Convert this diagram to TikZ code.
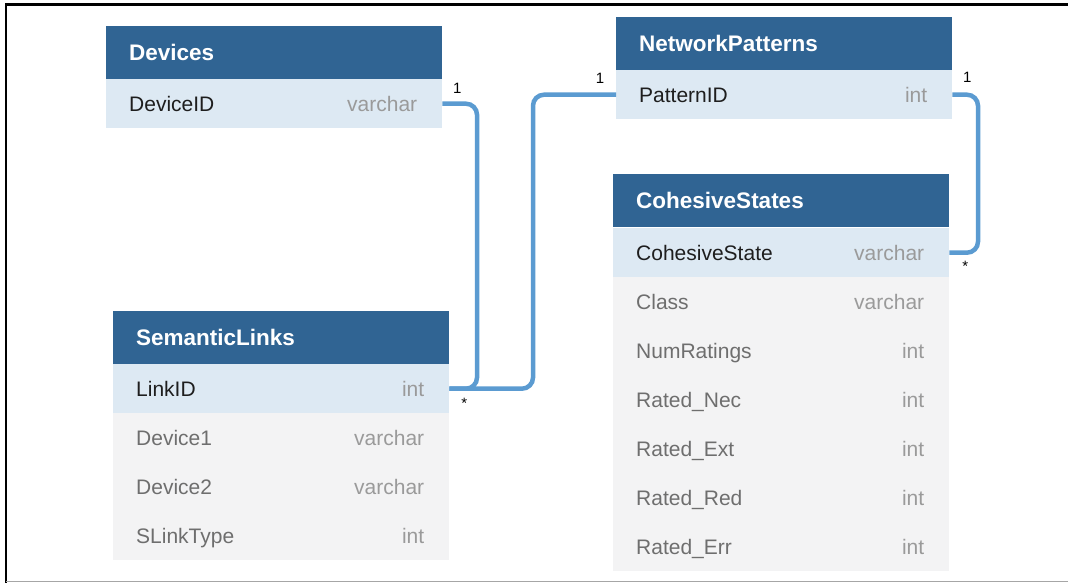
\documentclass[tikz,border=0pt]{standalone}
\usepackage{fontspec}
\setmainfont{Liberation Sans}
\usetikzlibrary{calc}

\definecolor{headblue}{HTML}{306493}
\definecolor{keyfill}{HTML}{DDE9F3}
\definecolor{plainfill}{HTML}{F3F3F4}
\definecolor{linkblue}{HTML}{5B9BD1}
\definecolor{nametext}{HTML}{1E1E1E}
\definecolor{plaintext}{HTML}{6E6E6E}
\definecolor{typetext}{HTML}{9A9A9A}

\tikzset{
  headbox/.style={fill=headblue, draw=none, minimum width=336pt, minimum height=53pt, inner sep=0pt},
  headtext/.style={text=white, font=\fontsize{22.5}{25}\selectfont\bfseries, inner sep=0pt, text height=16pt, text depth=0pt},
  keyrow/.style={fill=keyfill, draw=none, minimum width=336pt, minimum height=49pt, inner sep=0pt},
  plainrow/.style={fill=plainfill, draw=none, minimum width=336pt, minimum height=49pt, inner sep=0pt},
  keyname/.style={text=nametext, font=\fontsize{21}{24}\selectfont, inner sep=0pt, text height=15pt, text depth=0pt},
  plainname/.style={text=plaintext, font=\fontsize{21}{24}\selectfont, inner sep=0pt, text height=15pt, text depth=0pt},
  fieldtype/.style={text=typetext, font=\fontsize{21}{24}\selectfont, inner sep=0pt, text height=15pt, text depth=0pt},
  conn/.style={draw=linkblue, line width=4.5pt, rounded corners=11pt},
  mult/.style={font=\fontsize{15}{17}\selectfont, inner sep=0pt, text=black},
  frame/.style={line width=2.4pt, draw=black},
}

% table header: name, x, y top, title
\newcommand{\erhead}[4]{%
  \node[headbox, anchor=north west] (#1) at (#2,#3) {};
  \node[headtext, anchor=west] (#1-title) at ([xshift=23pt]#1.west) {#4};}
% table field row: name, key|plain, x, y top, field, type
\newcommand{\erfield}[6]{%
  \node[#2row, anchor=north west] (#1) at (#3,#4) {};
  \node[#2name, anchor=west] (#1-name) at ([xshift=23pt]#1.west) {#5};
  \node[fieldtype, anchor=east] (#1-type) at ([xshift=-25pt]#1.east) {#6};}

\begin{document}
\begin{tikzpicture}[x=1pt, y=-1pt]
\useasboundingbox (0,0) rectangle (1068,583);

% page frame
\draw[frame] (6,4.5) -- (1068,4.5);
\draw[frame] (6,3.3) -- (6,583);
\draw[draw=black!35, line width=1.5pt] (6,581.5) -- (1068,581.5);

% Devices
\erhead{dev}{106}{26}{Devices}
\erfield{dev1}{key}{106}{79}{DeviceID}{varchar}

% NetworkPatterns
\erhead{np}{616}{17}{NetworkPatterns}
\erfield{np1}{key}{616}{70}{PatternID}{int}

% CohesiveStates
\erhead{cs}{613}{174}{CohesiveStates}
\erfield{cs1}{key}{613}{228}{CohesiveState}{varchar}
\erfield{cs2}{plain}{613}{277}{Class}{varchar}
\erfield{cs3}{plain}{613}{326}{NumRatings}{int}
\erfield{cs4}{plain}{613}{375}{Rated\_Nec}{int}
\erfield{cs5}{plain}{613}{424}{Rated\_Ext}{int}
\erfield{cs6}{plain}{613}{473}{Rated\_Red}{int}
\erfield{cs7}{plain}{613}{522}{Rated\_Err}{int}

% SemanticLinks
\erhead{sl}{113}{311}{SemanticLinks}
\erfield{sl1}{key}{113}{364}{LinkID}{int}
\erfield{sl2}{plain}{113}{413}{Device1}{varchar}
\erfield{sl3}{plain}{113}{462}{Device2}{varchar}
\erfield{sl4}{plain}{113}{511}{SLinkType}{int}

% routing columns for the relationship lines
\coordinate (busA) at (477,0);
\coordinate (busB) at (533,0);
\coordinate (busC) at (978,0);

% relationships
\draw[conn] (dev1.east) -- (dev1.east -| busA) -- (sl1.east -| busA) -- (sl1.east);
\draw[conn] (sl1.east) -- (sl1.east -| busB) -- (np1.west -| busB) -- (np1.west);
\draw[conn] (np1.east) -- (np1.east -| busC) -- (cs1.east -| busC) -- (cs1.east);

% multiplicities
\node[mult] (m1) at ([xshift=15pt, yshift=15pt]dev1.east) {1};
\node[mult] (m2) at ([xshift=15pt, yshift=-15pt]sl1.east) {*};
\node[mult] (m3) at ([xshift=-16pt, yshift=16pt]np1.west) {1};
\node[mult] (m4) at ([xshift=15pt, yshift=17pt]np1.east) {1};
\node[mult] (m5) at ([xshift=16pt, yshift=-14pt]cs1.east) {*};
\end{tikzpicture}
\end{document}
